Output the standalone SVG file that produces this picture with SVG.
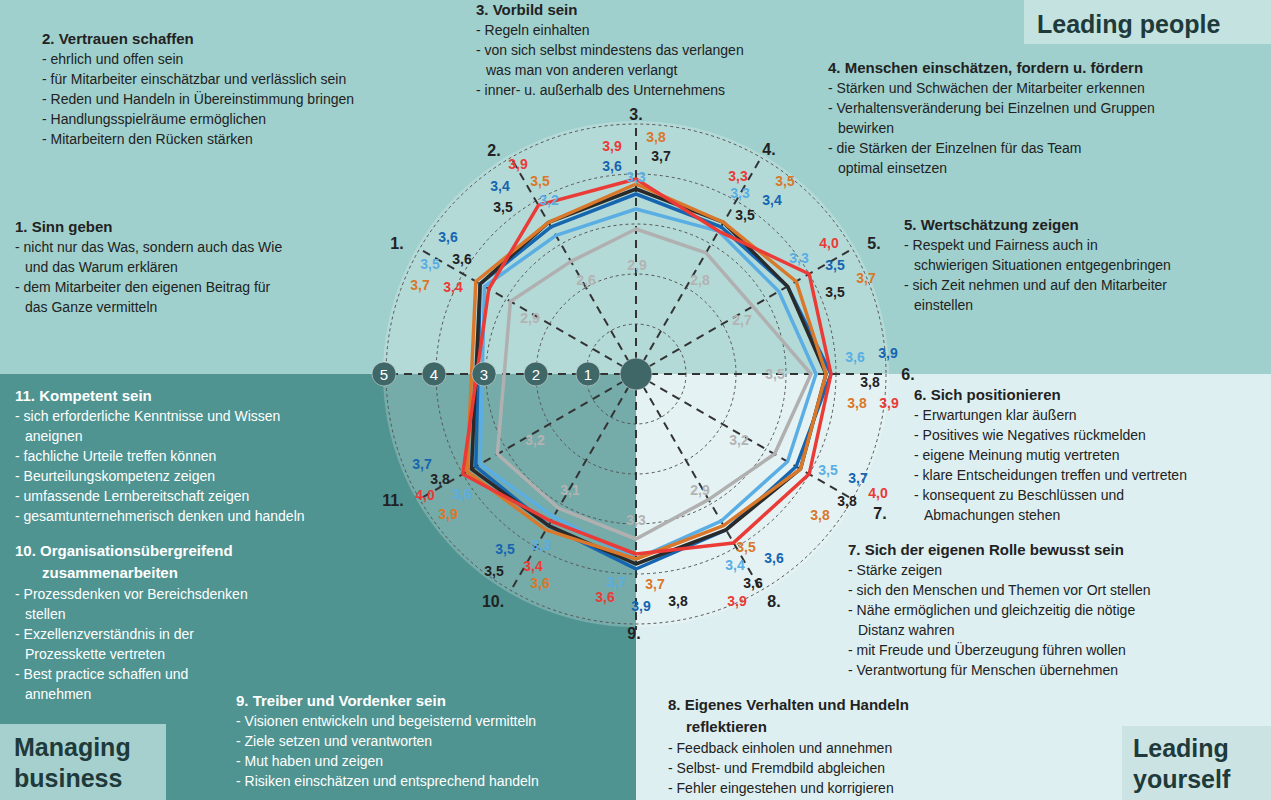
<svg xmlns="http://www.w3.org/2000/svg" width="1271" height="800" viewBox="0 0 1271 800">
<style>
text{font-family:"Liberation Sans",Arial,sans-serif}
.t{font-size:14px;fill:#222}
.w{font-size:14px;fill:#fff}
.h{font-size:15px;font-weight:bold;fill:#222}
.hw{font-size:15px;font-weight:bold;fill:#fff}
.v{font-size:14px;font-weight:bold;text-anchor:middle;dominant-baseline:central}
.k{fill:#222}.db{fill:#1565b0}.lb{fill:#5aaee3}.or{fill:#d9782a}.rd{fill:#ea3b36}.gr{fill:#b3b3b3}
.ax{font-size:16px;font-weight:bold;fill:#222;text-anchor:middle;dominant-baseline:central}
.ring{fill:none;stroke:#555;stroke-width:1;stroke-dasharray:3 3}
.spoke{stroke:#333;stroke-width:2;stroke-dasharray:8 6}
.poly{fill:none;stroke-width:3.5;stroke-linejoin:round}
.ball{fill:#3f6767;stroke:#eee;stroke-width:0.5}
.bn{font-size:15px;fill:#fff;text-anchor:middle;dominant-baseline:central}
.big{font-size:25px;font-weight:bold;fill:#1e3a3a}
</style>
<rect x="0" y="0" width="1271" height="374" fill="#9fd0cd"/>
<rect x="0" y="374" width="636" height="426" fill="#4f9491"/>
<rect x="636" y="374" width="635" height="426" fill="#ddeff0"/>
<circle cx="636" cy="374" r="253" fill="#fff" fill-opacity="0.22"/>
<g id="grid">
<circle class="ring" cx="636" cy="374" r="50"/>
<circle class="ring" cx="636" cy="374" r="100"/>
<circle class="ring" cx="636" cy="374" r="150"/>
<circle class="ring" cx="636" cy="374" r="200"/>
<circle class="ring" cx="636" cy="374" r="250"/>
<g class="spoke">
<line x1="636" y1="374" x2="636" y2="122"/>
<line x1="636" y1="374" x2="636" y2="630"/>
<line x1="636" y1="374" x2="384" y2="374"/>
<line x1="636" y1="374" x2="888" y2="374"/>
<line x1="636" y1="374" x2="418" y2="248"/>
<line x1="636" y1="374" x2="510" y2="156"/>
<line x1="636" y1="374" x2="762" y2="156"/>
<line x1="636" y1="374" x2="854" y2="248"/>
<line x1="636" y1="374" x2="854" y2="500"/>
<line x1="636" y1="374" x2="762" y2="592"/>
<line x1="636" y1="374" x2="510" y2="592"/>
<line x1="636" y1="374" x2="418" y2="500"/>
</g>
</g>
<g id="connectors">
<polygon class="poly" stroke="#b0b0b0" points="510.4,301.5 571,261.4 636,229 706,252.8 752.9,306.5 811,374 774.6,454 708.5,499.6 636,539 558.5,508.2 497.4,454"/>
<polygon class="poly" stroke="#5aaee3" points="484.4,286.5 556,235.4 636,209 718.5,231.1 778.9,291.5 816,374 787.6,461.5 721,521.2 636,559 553.5,516.9 480.1,464"/>
<polygon class="poly" stroke="#1565b0" points="480.1,284 551,226.8 636,194 721,226.8 787.6,286.5 831,374 796.2,466.5 726,529.9 636,569 548.5,525.6 475.8,466.5"/>
<polygon class="poly" stroke="#2a2a2a" points="480.1,284 548.5,222.4 636,189 723.5,222.4 787.6,286.5 826,374 800.5,469 726,529.9 636,564 548.5,525.6 471.5,469"/>
<polygon class="poly" stroke="#d9782a" points="475.8,281.5 548.5,222.4 636,184 723.5,222.4 796.2,281.5 826,374 800.5,469 723.5,525.6 636,559 546,529.9 467.1,471.5"/>
<polygon class="poly" stroke="#ea3b36" points="488.8,289 538.5,205.1 636,179 718.5,231.1 809.2,274 831,374 809.2,474 733.5,542.9 636,554 551,521.2 462.8,474"/>
</g>
<g id="scale">
<circle class="ball" cx="636" cy="374" r="16"/>
<circle class="ball" cx="588" cy="374" r="12"/><text class="bn" x="588" y="374">1</text>
<circle class="ball" cx="536" cy="374" r="12"/><text class="bn" x="536" y="374">2</text>
<circle class="ball" cx="484" cy="374" r="12"/><text class="bn" x="484" y="374">3</text>
<circle class="ball" cx="434" cy="374" r="12"/><text class="bn" x="434" y="374">4</text>
<circle class="ball" cx="384" cy="374" r="12"/><text class="bn" x="384" y="374">5</text>
</g>
<g id="values">
<text class="ax" x="636" y="114">3.</text>
<text class="v rd" x="612" y="146">3,9</text><text class="v or" x="656" y="137">3,8</text><text class="v k" x="661" y="156">3,7</text><text class="v db" x="612" y="166">3,6</text><text class="v lb" x="636" y="177">3,3</text><text class="v gr" x="637" y="265">2,9</text>
<text class="ax" x="494" y="150">2.</text>
<text class="v rd" x="518" y="164">3,9</text><text class="v db" x="500" y="186">3,4</text><text class="v or" x="540" y="181">3,5</text><text class="v lb" x="549" y="200">3,2</text><text class="v k" x="503" y="207">3,5</text><text class="v gr" x="586" y="280">2,6</text>
<text class="ax" x="769" y="149">4.</text>
<text class="v rd" x="738" y="176">3,3</text><text class="v or" x="785" y="181">3,5</text><text class="v lb" x="740" y="193">3,3</text><text class="v db" x="772" y="200">3,4</text><text class="v k" x="745" y="215">3,5</text><text class="v gr" x="700" y="280">2,8</text>
<text class="ax" x="874" y="243">5.</text>
<text class="v rd" x="829" y="243">4,0</text><text class="v lb" x="799" y="258">3,3</text><text class="v db" x="835" y="265">3,5</text><text class="v or" x="866" y="278">3,7</text><text class="v k" x="835" y="292">3,5</text><text class="v gr" x="742" y="320">2,7</text>
<text class="ax" x="908" y="374">6.</text>
<text class="v lb" x="855" y="357">3,6</text><text class="v db" x="888" y="353">3,9</text><text class="v k" x="870" y="382">3,8</text><text class="v or" x="857" y="403">3,8</text><text class="v rd" x="889" y="403">3,9</text><text class="v gr" x="775" y="374">3,5</text>
<text class="ax" x="880" y="513">7.</text>
<text class="v lb" x="828" y="470">3,5</text><text class="v db" x="858" y="478">3,7</text><text class="v rd" x="878" y="493">4,0</text><text class="v k" x="847" y="501">3,8</text><text class="v or" x="820" y="515">3,8</text><text class="v gr" x="739" y="440">3,2</text>
<text class="ax" x="774" y="601">8.</text>
<text class="v or" x="746" y="547">3,5</text><text class="v db" x="774" y="558">3,6</text><text class="v lb" x="735" y="565">3,4</text><text class="v k" x="753" y="583">3,6</text><text class="v rd" x="737" y="601">3,9</text><text class="v gr" x="700" y="490">2,9</text>
<text class="ax" x="634" y="633">9.</text>
<text class="v lb" x="616" y="582">3,7</text><text class="v or" x="655" y="584">3,7</text><text class="v rd" x="605" y="597">3,6</text><text class="v db" x="641" y="606">3,9</text><text class="v k" x="678" y="601">3,8</text><text class="v gr" x="636" y="520">3,3</text>
<text class="ax" x="493" y="601">10.</text>
<text class="v db" x="505" y="549">3,5</text><text class="v lb" x="541" y="545">3,3</text><text class="v k" x="494" y="571">3,5</text><text class="v rd" x="533" y="566">3,4</text><text class="v or" x="540" y="583">3,6</text><text class="v gr" x="570" y="490">3,1</text>
<text class="ax" x="393" y="500">11.</text>
<text class="v db" x="422" y="464">3,7</text><text class="v k" x="440" y="479">3,8</text><text class="v rd" x="425" y="495">4,0</text><text class="v lb" x="462" y="494">3,6</text><text class="v or" x="448" y="514">3,9</text><text class="v gr" x="535" y="440">3,2</text>
<text class="ax" x="397" y="243">1.</text>
<text class="v db" x="448" y="237">3,6</text><text class="v lb" x="430" y="264">3,5</text><text class="v k" x="462" y="259">3,6</text><text class="v or" x="420" y="285">3,7</text><text class="v rd" x="453" y="287">3,4</text><text class="v gr" x="530" y="318">2,9</text>
</g>
<g id="n2"><text class="h" x="42" y="44">2. Vertrauen schaffen</text>
<text class="t" x="42" y="64">- ehrlich und offen sein</text>
<text class="t" x="42" y="84">- für Mitarbeiter einschätzbar und verlässlich sein</text>
<text class="t" x="42" y="104">- Reden und Handeln in Übereinstimmung  bringen</text>
<text class="t" x="42" y="124">- Handlungsspielräume  ermöglichen</text>
<text class="t" x="42" y="144">- Mitarbeitern den Rücken stärken</text></g>
<g id="n3"><text class="h" x="476" y="15">3. Vorbild sein</text>
<text class="t" x="476" y="35">- Regeln einhalten</text>
<text class="t" x="476" y="55">- von sich selbst mindestens das verlangen</text>
<text class="t" x="486" y="75">was man von anderen verlangt</text>
<text class="t" x="476" y="95">- inner- u. außerhalb des Unternehmens</text></g>
<g id="lp"><rect x="1024" y="0" width="247" height="44" fill="#c3e2e0"/><text class="big" x="1037" y="33">Leading people</text></g>
<g id="n4"><text class="h" x="828" y="73">4. Menschen einschätzen, fordern u. fördern</text>
<text class="t" x="828" y="93">- Stärken und  Schwächen der Mitarbeiter erkennen</text>
<text class="t" x="828" y="113">- Verhaltensveränderung bei Einzelnen und Gruppen</text>
<text class="t" x="838" y="133">bewirken</text>
<text class="t" x="828" y="153">- die Stärken der Einzelnen für das Team</text>
<text class="t" x="838" y="173">optimal einsetzen</text></g>
<g id="n5"><text class="h" x="904" y="230">5. Wertschätzung zeigen</text>
<text class="t" x="904" y="250">- Respekt und Fairness auch in</text>
<text class="t" x="914" y="270">schwierigen Situationen entgegenbringen</text>
<text class="t" x="904" y="290">- sich Zeit nehmen und auf den Mitarbeiter</text>
<text class="t" x="914" y="310">einstellen</text></g>
<g id="n1"><text class="h" x="15" y="232">1. Sinn geben</text>
<text class="t" x="15" y="252">- nicht nur das Was, sondern auch das Wie</text>
<text class="t" x="25" y="272">und das Warum erklären</text>
<text class="t" x="15" y="292">- dem Mitarbeiter den eigenen Beitrag für</text>
<text class="t" x="25" y="312">das Ganze vermitteln</text></g>
<g id="n11"><text class="hw" x="15" y="401">11. Kompetent sein</text>
<text class="w" x="15" y="421">- sich erforderliche Kenntnisse und Wissen</text>
<text class="w" x="25" y="441">aneignen</text>
<text class="w" x="15" y="461">- fachliche Urteile treffen können</text>
<text class="w" x="15" y="481">- Beurteilungskompetenz  zeigen</text>
<text class="w" x="15" y="501">- umfassende Lernbereitschaft zeigen</text>
<text class="w" x="15" y="521">- gesamtunternehmerisch  denken und handeln</text></g>
<g id="n10"><text class="hw" x="15" y="556">10. Organisationsübergreifend</text>
<text class="hw" x="42" y="578">zusammenarbeiten</text>
<text class="w" x="15" y="599">- Prozessdenken vor Bereichsdenken</text>
<text class="w" x="25" y="619">stellen</text>
<text class="w" x="15" y="639">- Exzellenzverständnis in der</text>
<text class="w" x="25" y="659">Prozesskette vertreten</text>
<text class="w" x="15" y="679">- Best practice schaffen und</text>
<text class="w" x="25" y="699">annehmen</text></g>
<g id="n9"><text class="hw" x="236" y="706">9. Treiber und Vordenker sein</text>
<text class="w" x="236" y="726">- Visionen entwickeln und begeisternd vermitteln</text>
<text class="w" x="236" y="746">- Ziele setzen und  verantworten</text>
<text class="w" x="236" y="766">- Mut haben und zeigen</text>
<text class="w" x="236" y="786">- Risiken einschätzen und entsprechend handeln</text></g>
<g id="mb"><rect x="0" y="724" width="166" height="76" fill="#a6d0ce"/><text class="big" x="14" y="756">Managing</text><text class="big" x="14" y="787">business</text></g>
<g id="n6"><text class="h" x="914" y="400">6. Sich positionieren</text>
<text class="t" x="914" y="420">- Erwartungen klar äußern</text>
<text class="t" x="914" y="440">- Positives wie Negatives rückmelden</text>
<text class="t" x="914" y="460">- eigene Meinung mutig vertreten</text>
<text class="t" x="914" y="480">- klare Entscheidungen treffen und vertreten</text>
<text class="t" x="914" y="500">- konsequent zu Beschlüssen und</text>
<text class="t" x="924" y="520">Abmachungen stehen</text></g>
<g id="n7"><text class="h" x="848" y="555">7. Sich der eigenen Rolle bewusst sein</text>
<text class="t" x="848" y="575">- Stärke zeigen</text>
<text class="t" x="848" y="595">- sich den Menschen und Themen vor Ort stellen</text>
<text class="t" x="848" y="615">- Nähe ermöglichen und gleichzeitig die nötige</text>
<text class="t" x="858" y="635">Distanz wahren</text>
<text class="t" x="848" y="655">- mit Freude und Überzeugung führen wollen</text>
<text class="t" x="848" y="675">- Verantwortung für Menschen übernehmen</text></g>
<g id="n8"><text class="h" x="668" y="710">8. Eigenes Verhalten und Handeln</text>
<text class="h" x="686" y="732">reflektieren</text>
<text class="t" x="668" y="753">- Feedback einholen und annehmen</text>
<text class="t" x="668" y="773">- Selbst- und Fremdbild abgleichen</text>
<text class="t" x="668" y="793">- Fehler eingestehen und korrigieren</text></g>
<g id="ly"><rect x="1122" y="726" width="149" height="74" fill="#cbe3e3"/><text class="big" x="1133" y="757">Leading</text><text class="big" x="1133" y="788">yourself</text></g>
</svg>
